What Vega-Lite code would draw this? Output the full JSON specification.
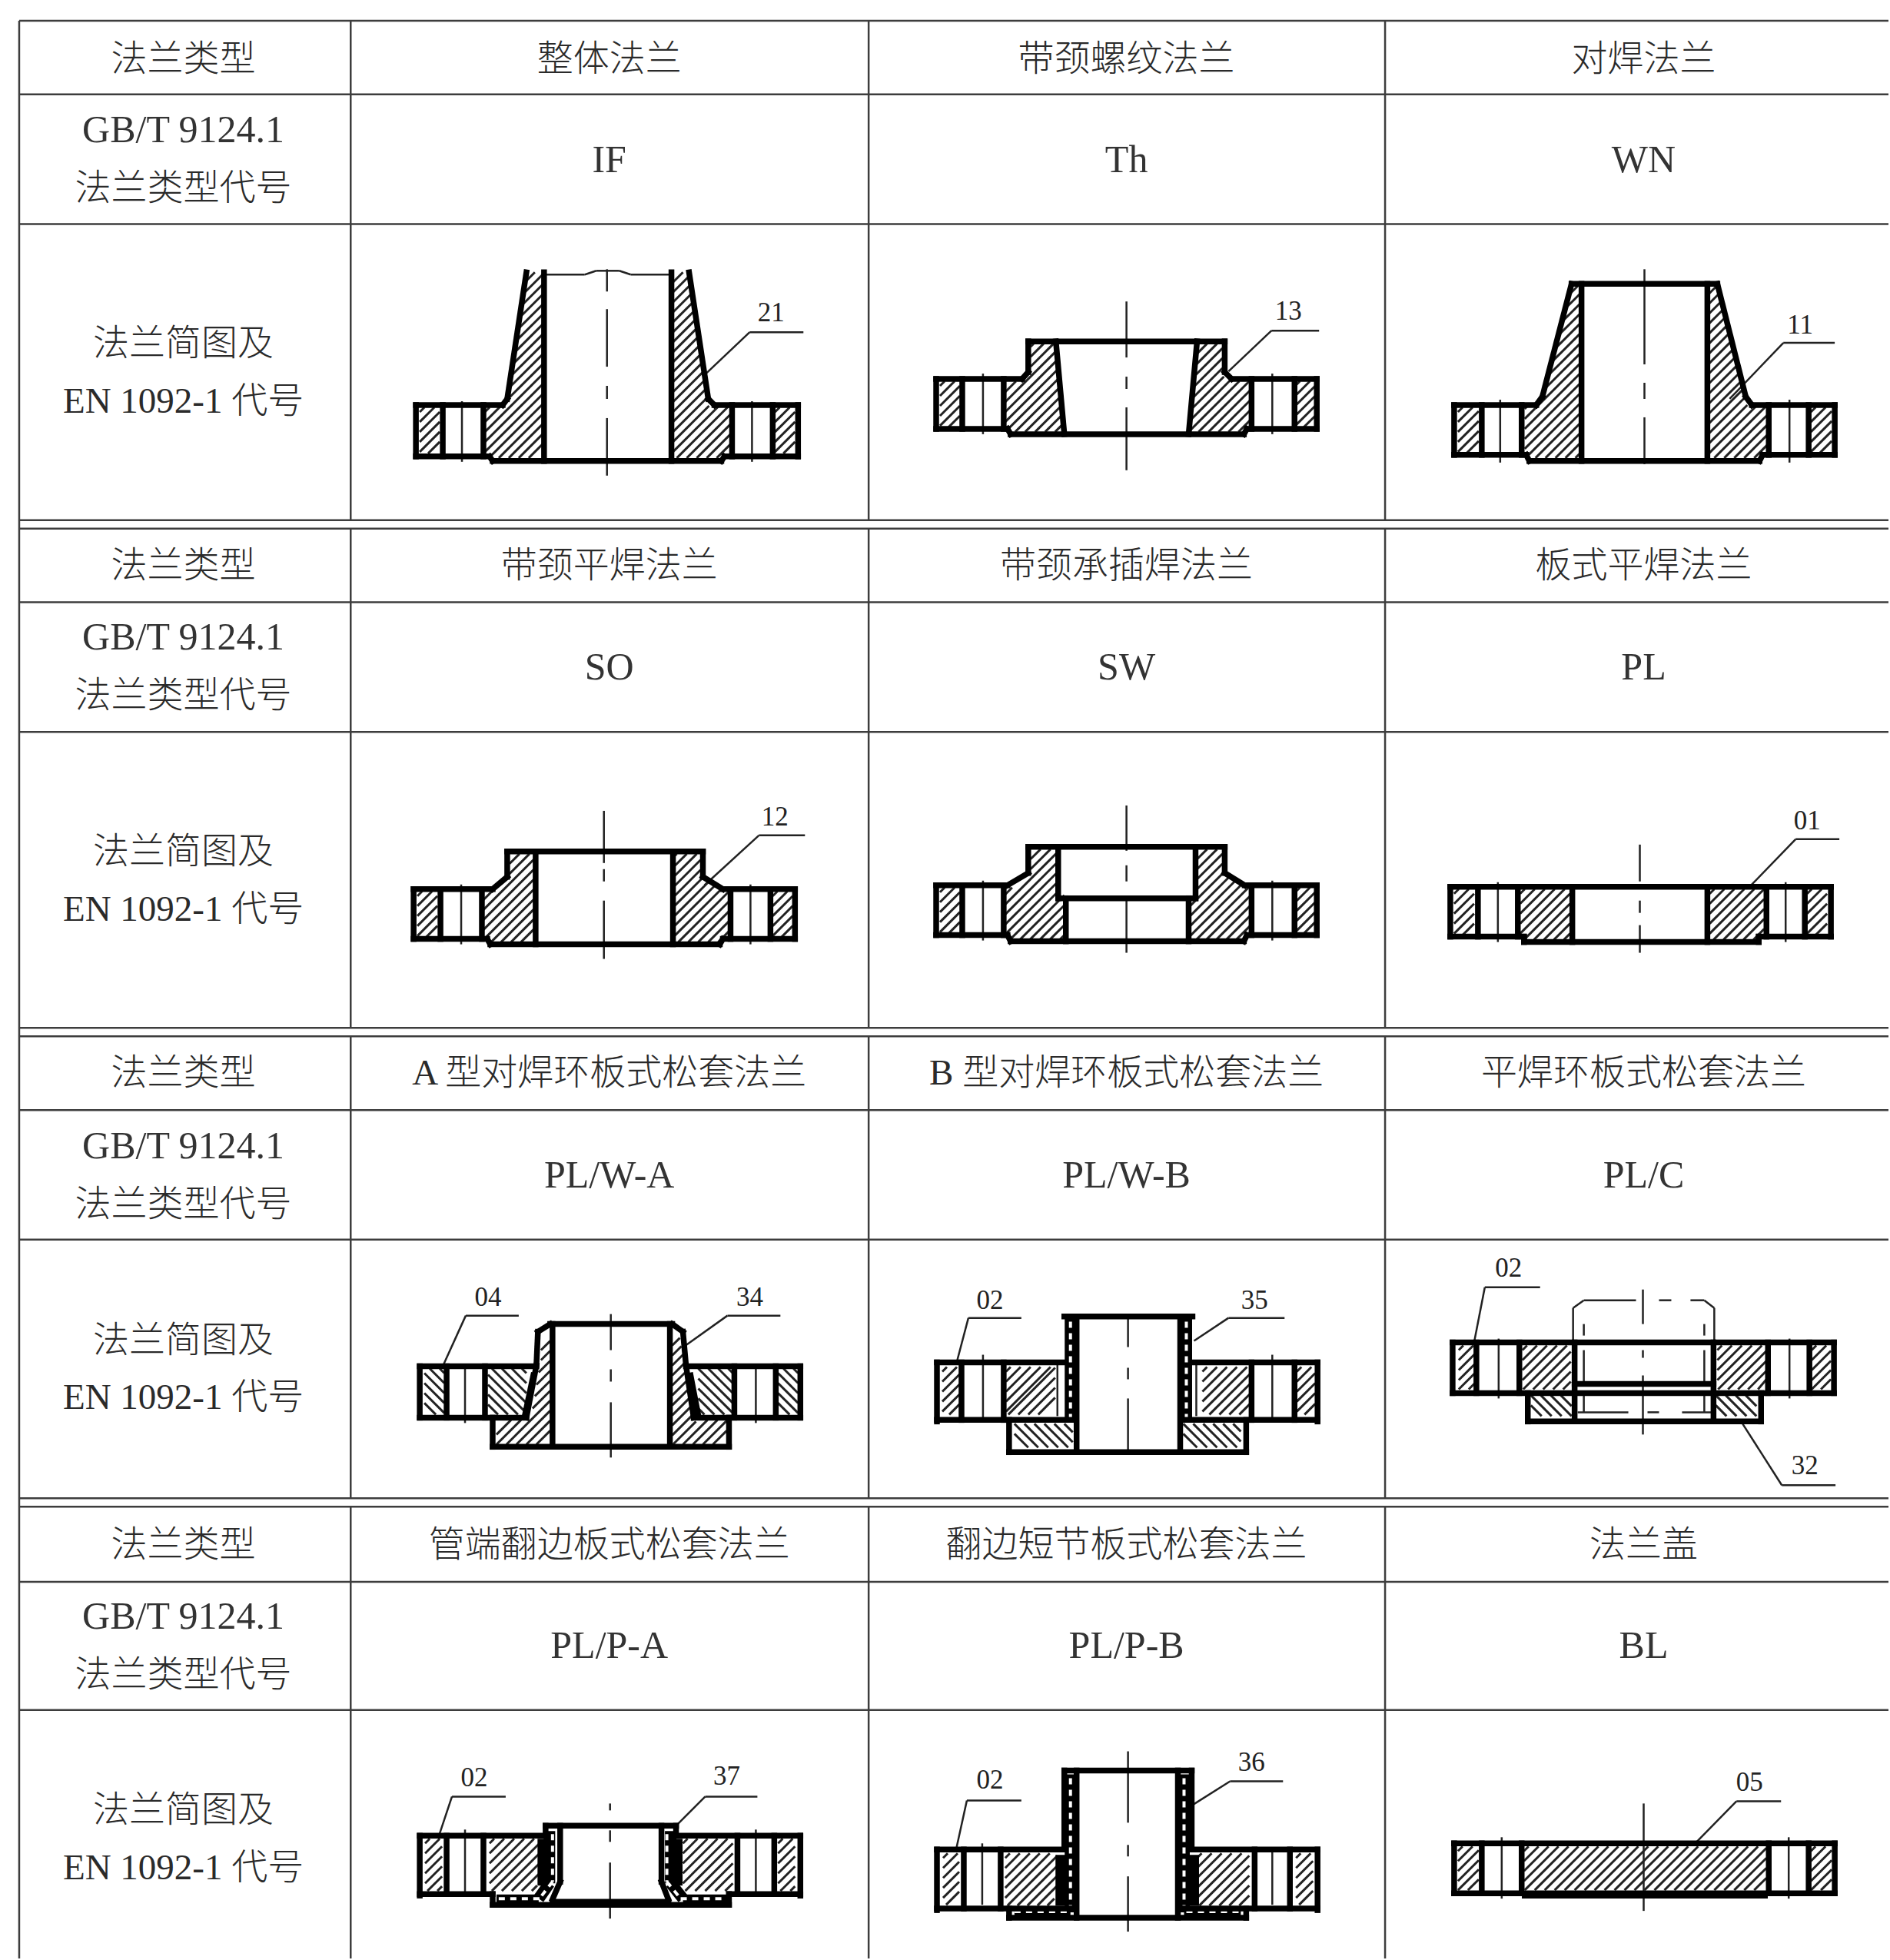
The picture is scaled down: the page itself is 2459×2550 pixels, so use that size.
{"$schema":"https://vega.github.io/schema/vega-lite/v6.json","width":2459,"height":2550,"padding":0,"autosize":{"type":"fit","contains":"padding"},"background":"white","config":{"view":{"stroke":null}},
"datasets":{
"grid":[{"a":23,"b":24,"c":23,"d":2550},{"a":455,"b":24,"c":455,"d":675},{"a":1130,"b":24,"c":1130,"d":675},{"a":1803,"b":24,"c":1803,"d":675},{"a":455,"b":686,"c":455,"d":1337},{"a":1130,"b":686,"c":1130,"d":1337},{"a":1803,"b":686,"c":1803,"d":1337},{"a":455,"b":1348,"c":455,"d":1950},{"a":1130,"b":1348,"c":1130,"d":1950},{"a":1803,"b":1348,"c":1803,"d":1950},{"a":455,"b":1961,"c":455,"d":2550},{"a":1130,"b":1961,"c":1130,"d":2550},{"a":1803,"b":1961,"c":1803,"d":2550},{"a":23,"b":24,"c":2459,"d":24},{"a":23,"b":120,"c":2459,"d":120},{"a":23,"b":289,"c":2459,"d":289},{"a":23,"b":675,"c":2459,"d":675},{"a":23,"b":686,"c":2459,"d":686},{"a":23,"b":782,"c":2459,"d":782},{"a":23,"b":951,"c":2459,"d":951},{"a":23,"b":1337,"c":2459,"d":1337},{"a":23,"b":1348,"c":2459,"d":1348},{"a":23,"b":1444,"c":2459,"d":1444},{"a":23,"b":1613,"c":2459,"d":1613},{"a":23,"b":1950,"c":2459,"d":1950},{"a":23,"b":1961,"c":2459,"d":1961},{"a":23,"b":2059,"c":2459,"d":2059},{"a":23,"b":2226,"c":2459,"d":2226}],
"hatch":[
{"a":545,"b":534,"c":551,"d":528},{"a":545,"b":547,"c":564,"d":528},{"a":545,"b":560,"c":571,"d":534},{"a":545,"b":573,"c":571,"d":547},{"a":545,"b":586,"c":571,"d":560},{"a":556,"b":588,"c":571,"d":573},
{"a":1008,"b":534,"c":1014,"d":528},{"a":1008,"b":547,"c":1027,"d":528},{"a":1008,"b":560,"c":1034,"d":534},{"a":1008,"b":573,"c":1034,"d":547},{"a":1008,"b":586,"c":1034,"d":560},{"a":1019,"b":588,"c":1034,"d":573},
{"a":682,"b":365,"c":695,"d":352},{"a":680,"b":380,"c":705,"d":355},{"a":677,"b":396,"c":705,"d":368},{"a":675,"b":411,"c":705,"d":381},{"a":673,"b":426,"c":705,"d":394},{"a":670,"b":442,"c":705,"d":407},{"a":668,"b":457,"c":705,"d":420},{"a":666,"b":472,"c":705,"d":433},{"a":663,"b":488,"c":705,"d":446},{"a":661,"b":503,"c":705,"d":459},{"a":630,"b":534,"c":636,"d":528},{"a":630,"b":547,"c":705,"d":472},{"a":630,"b":560,"c":705,"d":485},{"a":630,"b":573,"c":705,"d":498},{"a":630,"b":586,"c":705,"d":511},{"a":636,"b":593,"c":705,"d":524},{"a":648,"b":594,"c":705,"d":537},{"a":661,"b":594,"c":705,"d":550},{"a":674,"b":594,"c":705,"d":563},{"a":687,"b":594,"c":705,"d":576},
{"a":875,"b":365,"c":888,"d":352},{"a":875,"b":378,"c":896,"d":357},{"a":875,"b":391,"c":898,"d":368},{"a":875,"b":404,"c":900,"d":379},{"a":875,"b":417,"c":902,"d":390},{"a":875,"b":430,"c":904,"d":401},{"a":875,"b":443,"c":905,"d":413},{"a":875,"b":456,"c":907,"d":424},{"a":875,"b":469,"c":909,"d":435},{"a":875,"b":482,"c":910,"d":447},{"a":875,"b":495,"c":912,"d":458},{"a":875,"b":508,"c":914,"d":469},{"a":875,"b":521,"c":916,"d":480},{"a":875,"b":534,"c":917,"d":492},{"a":875,"b":547,"c":919,"d":503},{"a":875,"b":560,"c":921,"d":514},{"a":875,"b":573,"c":922,"d":526},{"a":875,"b":586,"c":935,"d":526},{"a":880,"b":594,"c":948,"d":526},{"a":893,"b":594,"c":950,"d":537},{"a":906,"b":594,"c":950,"d":550},{"a":919,"b":594,"c":950,"d":563},{"a":932,"b":594,"c":950,"d":576},
{"a":1223,"b":500,"c":1229,"d":494},{"a":1223,"b":513,"c":1242,"d":494},{"a":1223,"b":526,"c":1249,"d":500},{"a":1223,"b":539,"c":1249,"d":513},{"a":1223,"b":552,"c":1249,"d":526},{"a":1234,"b":554,"c":1249,"d":539},
{"a":1686,"b":500,"c":1692,"d":494},{"a":1686,"b":513,"c":1705,"d":494},{"a":1686,"b":526,"c":1712,"d":500},{"a":1686,"b":539,"c":1712,"d":513},{"a":1686,"b":552,"c":1712,"d":526},{"a":1697,"b":554,"c":1712,"d":539},
{"a":1341,"b":449,"c":1345,"d":445},{"a":1341,"b":462,"c":1358,"d":445},{"a":1341,"b":475,"c":1371,"d":445},{"a":1308,"b":508,"c":1322,"d":494},{"a":1308,"b":521,"c":1376,"d":453},{"a":1308,"b":534,"c":1377,"d":465},{"a":1308,"b":547,"c":1378,"d":477},{"a":1311,"b":557,"c":1379,"d":489},{"a":1321,"b":560,"c":1380,"d":501},{"a":1334,"b":560,"c":1381,"d":513},{"a":1347,"b":560,"c":1382,"d":525},{"a":1360,"b":560,"c":1383,"d":537},{"a":1373,"b":560,"c":1384,"d":549},
{"a":1556,"b":460,"c":1571,"d":445},{"a":1555,"b":474,"c":1584,"d":445},{"a":1554,"b":488,"c":1591,"d":451},{"a":1553,"b":502,"c":1591,"d":464},{"a":1552,"b":516,"c":1591,"d":477},{"a":1551,"b":530,"c":1593,"d":488},{"a":1550,"b":544,"c":1600,"d":494},{"a":1549,"b":558,"c":1613,"d":494},{"a":1560,"b":560,"c":1626,"d":494},{"a":1573,"b":560,"c":1627,"d":506},{"a":1586,"b":560,"c":1627,"d":519},{"a":1599,"b":560,"c":1627,"d":532},{"a":1612,"b":560,"c":1627,"d":545},
{"a":1898,"b":534,"c":1904,"d":528},{"a":1898,"b":547,"c":1917,"d":528},{"a":1898,"b":560,"c":1925,"d":533},{"a":1898,"b":573,"c":1925,"d":546},{"a":1898,"b":586,"c":1925,"d":559},{"a":1909,"b":588,"c":1925,"d":572},
{"a":2358,"b":534,"c":2364,"d":528},{"a":2358,"b":547,"c":2377,"d":528},{"a":2358,"b":560,"c":2385,"d":533},{"a":2358,"b":573,"c":2385,"d":546},{"a":2358,"b":586,"c":2385,"d":559},{"a":2369,"b":588,"c":2385,"d":572},
{"a":2042,"b":382,"c":2057,"d":367},{"a":2037,"b":400,"c":2057,"d":380},{"a":2033,"b":417,"c":2057,"d":393},{"a":2028,"b":435,"c":2057,"d":406},{"a":2024,"b":452,"c":2057,"d":419},{"a":2019,"b":470,"c":2057,"d":432},{"a":2015,"b":487,"c":2057,"d":445},{"a":2010,"b":505,"c":2057,"d":458},{"a":1985,"b":530,"c":1990,"d":525},{"a":1985,"b":543,"c":2057,"d":471},{"a":1985,"b":556,"c":2057,"d":484},{"a":1985,"b":569,"c":2057,"d":497},{"a":1985,"b":582,"c":2057,"d":510},{"a":1987,"b":593,"c":2057,"d":523},{"a":1999,"b":594,"c":2057,"d":536},{"a":2012,"b":594,"c":2057,"d":549},{"a":2025,"b":594,"c":2057,"d":562},{"a":2038,"b":594,"c":2057,"d":575},{"a":2051,"b":594,"c":2057,"d":588},
{"a":2225,"b":380,"c":2236,"d":369},{"a":2225,"b":393,"c":2239,"d":379},{"a":2225,"b":406,"c":2242,"d":389},{"a":2225,"b":419,"c":2244,"d":400},{"a":2225,"b":432,"c":2247,"d":410},{"a":2225,"b":445,"c":2250,"d":420},{"a":2225,"b":458,"c":2252,"d":431},{"a":2225,"b":471,"c":2255,"d":441},{"a":2225,"b":484,"c":2257,"d":452},{"a":2225,"b":497,"c":2260,"d":462},{"a":2225,"b":510,"c":2263,"d":472},{"a":2225,"b":523,"c":2265,"d":483},{"a":2225,"b":536,"c":2268,"d":493},{"a":2225,"b":549,"c":2270,"d":504},{"a":2225,"b":562,"c":2273,"d":514},{"a":2225,"b":575,"c":2275,"d":525},{"a":2225,"b":588,"c":2288,"d":525},{"a":2232,"b":594,"c":2300,"d":526},{"a":2245,"b":594,"c":2301,"d":538},{"a":2258,"b":594,"c":2301,"d":551},{"a":2271,"b":594,"c":2301,"d":564},{"a":2284,"b":594,"c":2301,"d":577},
{"a":542,"b":1165,"c":548,"d":1159},{"a":542,"b":1178,"c":561,"d":1159},{"a":542,"b":1191,"c":568,"d":1165},{"a":542,"b":1204,"c":568,"d":1178},{"a":542,"b":1217,"c":568,"d":1191},{"a":553,"b":1219,"c":568,"d":1204},
{"a":1005,"b":1165,"c":1011,"d":1159},{"a":1005,"b":1178,"c":1024,"d":1159},{"a":1005,"b":1191,"c":1031,"d":1165},{"a":1005,"b":1204,"c":1031,"d":1178},{"a":1005,"b":1217,"c":1031,"d":1191},{"a":1016,"b":1219,"c":1031,"d":1204},
{"a":662,"b":1123,"c":675,"d":1110},{"a":628,"b":1170,"c":688,"d":1110},{"a":628,"b":1183,"c":694,"d":1117},{"a":628,"b":1196,"c":694,"d":1130},{"a":628,"b":1209,"c":694,"d":1143},{"a":630,"b":1220,"c":694,"d":1156},{"a":638,"b":1225,"c":694,"d":1169},{"a":651,"b":1225,"c":694,"d":1182},{"a":664,"b":1225,"c":694,"d":1195},{"a":677,"b":1225,"c":694,"d":1208},
{"a":877,"b":1113,"c":880,"d":1110},{"a":877,"b":1126,"c":893,"d":1110},{"a":877,"b":1139,"c":906,"d":1110},{"a":877,"b":1152,"c":911,"d":1118},{"a":877,"b":1165,"c":911,"d":1131},{"a":877,"b":1178,"c":915,"d":1140},{"a":877,"b":1191,"c":922,"d":1146},{"a":877,"b":1204,"c":931,"d":1150},{"a":877,"b":1217,"c":940,"d":1154},{"a":882,"b":1225,"c":948,"d":1159},{"a":895,"b":1225,"c":948,"d":1172},{"a":908,"b":1225,"c":948,"d":1185},{"a":921,"b":1225,"c":948,"d":1198},{"a":934,"b":1225,"c":948,"d":1211},
{"a":1223,"b":1160,"c":1229,"d":1154},{"a":1223,"b":1173,"c":1242,"d":1154},{"a":1223,"b":1186,"c":1249,"d":1160},{"a":1223,"b":1199,"c":1249,"d":1173},{"a":1223,"b":1212,"c":1249,"d":1186},{"a":1234,"b":1214,"c":1249,"d":1199},
{"a":1686,"b":1160,"c":1692,"d":1154},{"a":1686,"b":1173,"c":1705,"d":1154},{"a":1686,"b":1186,"c":1712,"d":1160},{"a":1686,"b":1199,"c":1712,"d":1173},{"a":1686,"b":1212,"c":1712,"d":1186},{"a":1697,"b":1214,"c":1712,"d":1199},
{"a":1341,"b":1117,"c":1354,"d":1104},{"a":1341,"b":1130,"c":1367,"d":1104},{"a":1306,"b":1165,"c":1317,"d":1154},{"a":1306,"b":1178,"c":1375,"d":1109},{"a":1306,"b":1191,"c":1375,"d":1122},{"a":1306,"b":1204,"c":1375,"d":1135},{"a":1306,"b":1217,"c":1375,"d":1148},{"a":1312,"b":1224,"c":1375,"d":1161},{"a":1325,"b":1224,"c":1385,"d":1164},{"a":1338,"b":1224,"c":1385,"d":1177},{"a":1351,"b":1224,"c":1385,"d":1190},{"a":1364,"b":1224,"c":1385,"d":1203},{"a":1377,"b":1224,"c":1385,"d":1216},
{"a":1558,"b":1117,"c":1571,"d":1104},{"a":1558,"b":1130,"c":1584,"d":1104},{"a":1558,"b":1143,"c":1591,"d":1110},{"a":1558,"b":1156,"c":1591,"d":1123},{"a":1549,"b":1178,"c":1592,"d":1135},{"a":1549,"b":1191,"c":1600,"d":1140},{"a":1549,"b":1204,"c":1608,"d":1145},{"a":1549,"b":1217,"c":1616,"d":1150},{"a":1555,"b":1224,"c":1625,"d":1154},{"a":1568,"b":1224,"c":1627,"d":1165},{"a":1581,"b":1224,"c":1627,"d":1178},{"a":1594,"b":1224,"c":1627,"d":1191},{"a":1607,"b":1224,"c":1627,"d":1204},
{"a":1893,"b":1162,"c":1899,"d":1156},{"a":1893,"b":1175,"c":1912,"d":1156},{"a":1893,"b":1188,"c":1919,"d":1162},{"a":1893,"b":1201,"c":1919,"d":1175},{"a":1893,"b":1214,"c":1919,"d":1188},{"a":1904,"b":1216,"c":1919,"d":1201},
{"a":2353,"b":1162,"c":2359,"d":1156},{"a":2353,"b":1175,"c":2372,"d":1156},{"a":2353,"b":1188,"c":2379,"d":1162},{"a":2353,"b":1201,"c":2379,"d":1175},{"a":2353,"b":1214,"c":2379,"d":1188},{"a":2364,"b":1216,"c":2379,"d":1201},
{"a":1979,"b":1162,"c":1985,"d":1156},{"a":1979,"b":1175,"c":1998,"d":1156},{"a":1979,"b":1188,"c":2011,"d":1156},{"a":1979,"b":1201,"c":2024,"d":1156},{"a":1979,"b":1214,"c":2037,"d":1156},{"a":1984,"b":1222,"c":2044,"d":1162},{"a":1997,"b":1222,"c":2044,"d":1175},{"a":2010,"b":1222,"c":2044,"d":1188},{"a":2023,"b":1222,"c":2044,"d":1201},{"a":2036,"b":1222,"c":2044,"d":1214},
{"a":2226,"b":1162,"c":2232,"d":1156},{"a":2226,"b":1175,"c":2245,"d":1156},{"a":2226,"b":1188,"c":2258,"d":1156},{"a":2226,"b":1201,"c":2271,"d":1156},{"a":2226,"b":1214,"c":2284,"d":1156},{"a":2231,"b":1222,"c":2297,"d":1156},{"a":2244,"b":1222,"c":2297,"d":1169},{"a":2257,"b":1222,"c":2297,"d":1182},{"a":2270,"b":1222,"c":2297,"d":1195},{"a":2283,"b":1222,"c":2297,"d":1208},
{"a":571,"b":1781,"c":577,"d":1787},{"a":558,"b":1781,"c":577,"d":1800},{"a":551,"b":1787,"c":577,"d":1813},{"a":551,"b":1800,"c":577,"d":1826},{"a":551,"b":1813,"c":577,"d":1839},{"a":551,"b":1826,"c":566,"d":1841},
{"a":1032,"b":1781,"c":1038,"d":1787},{"a":1019,"b":1781,"c":1038,"d":1800},{"a":1012,"b":1787,"c":1038,"d":1813},{"a":1012,"b":1800,"c":1038,"d":1826},{"a":1012,"b":1813,"c":1038,"d":1839},{"a":1012,"b":1826,"c":1027,"d":1841},
{"a":678,"b":1781,"c":684,"d":1787},{"a":665,"b":1781,"c":684,"d":1800},{"a":652,"b":1781,"c":684,"d":1813},{"a":639,"b":1781,"c":684,"d":1826},{"a":634,"b":1789,"c":684,"d":1839},{"a":634,"b":1802,"c":673,"d":1841},{"a":634,"b":1815,"c":660,"d":1841},{"a":634,"b":1828,"c":647,"d":1841},
{"a":947,"b":1781,"c":953,"d":1787},{"a":934,"b":1781,"c":953,"d":1800},{"a":921,"b":1781,"c":953,"d":1813},{"a":908,"b":1781,"c":953,"d":1826},{"a":908,"b":1794,"c":953,"d":1839},{"a":908,"b":1807,"c":942,"d":1841},{"a":908,"b":1820,"c":929,"d":1841},{"a":908,"b":1833,"c":916,"d":1841},
{"a":703,"b":1757,"c":715,"d":1745},{"a":703,"b":1770,"c":715,"d":1758},{"a":700,"b":1786,"c":715,"d":1771},{"a":697,"b":1802,"c":715,"d":1784},{"a":695,"b":1817,"c":715,"d":1797},{"a":692,"b":1833,"c":715,"d":1810},{"a":645,"b":1867,"c":664,"d":1848},{"a":645,"b":1880,"c":677,"d":1848},{"a":658,"b":1880,"c":715,"d":1823},{"a":671,"b":1880,"c":715,"d":1836},{"a":684,"b":1880,"c":715,"d":1849},{"a":697,"b":1880,"c":715,"d":1862},
{"a":874,"b":1751,"c":884,"d":1741},{"a":874,"b":1764,"c":886,"d":1752},{"a":874,"b":1777,"c":888,"d":1763},{"a":874,"b":1790,"c":889,"d":1775},{"a":874,"b":1803,"c":891,"d":1786},{"a":874,"b":1816,"c":893,"d":1797},{"a":874,"b":1829,"c":894,"d":1809},{"a":874,"b":1842,"c":896,"d":1820},{"a":874,"b":1855,"c":898,"d":1831},{"a":874,"b":1868,"c":900,"d":1842},{"a":875,"b":1880,"c":905,"d":1850},{"a":888,"b":1880,"c":920,"d":1848},{"a":901,"b":1880,"c":933,"d":1848},{"a":914,"b":1880,"c":945,"d":1849},{"a":927,"b":1880,"c":945,"d":1862},
{"a":1226,"b":1785,"c":1232,"d":1779},{"a":1226,"b":1798,"c":1245,"d":1779},{"a":1226,"b":1811,"c":1249,"d":1788},{"a":1226,"b":1824,"c":1249,"d":1801},{"a":1226,"b":1837,"c":1249,"d":1814},{"a":1235,"b":1841,"c":1249,"d":1827},
{"a":1688,"b":1785,"c":1694,"d":1779},{"a":1688,"b":1798,"c":1707,"d":1779},{"a":1688,"b":1811,"c":1712,"d":1787},{"a":1688,"b":1824,"c":1712,"d":1800},{"a":1688,"b":1837,"c":1712,"d":1813},{"a":1698,"b":1841,"c":1712,"d":1827},
{"a":1309,"b":1785,"c":1315,"d":1779},{"a":1309,"b":1798,"c":1328,"d":1779},{"a":1309,"b":1811,"c":1341,"d":1779},{"a":1309,"b":1824,"c":1354,"d":1779},{"a":1309,"b":1837,"c":1367,"d":1779},{"a":1312,"b":1841,"c":1373,"d":1780},{"a":1325,"b":1841,"c":1373,"d":1793},{"a":1338,"b":1841,"c":1373,"d":1806},{"a":1351,"b":1841,"c":1373,"d":1819},
{"a":1565,"b":1785,"c":1571,"d":1779},{"a":1565,"b":1798,"c":1584,"d":1779},{"a":1565,"b":1811,"c":1597,"d":1779},{"a":1565,"b":1824,"c":1610,"d":1779},{"a":1565,"b":1837,"c":1623,"d":1779},{"a":1574,"b":1841,"c":1627,"d":1788},{"a":1587,"b":1841,"c":1627,"d":1801},{"a":1600,"b":1841,"c":1627,"d":1814},{"a":1613,"b":1841,"c":1627,"d":1827},
{"a":1320,"b":1853,"c":1351,"d":1884},{"a":1333,"b":1853,"c":1364,"d":1884},{"a":1346,"b":1853,"c":1377,"d":1884},{"a":1359,"b":1853,"c":1390,"d":1884},{"a":1372,"b":1853,"c":1396,"d":1877},{"a":1385,"b":1853,"c":1396,"d":1864},{"a":1320,"b":1866,"c":1338,"d":1884},
{"a":1540,"b":1853,"c":1571,"d":1884},{"a":1553,"b":1853,"c":1584,"d":1884},{"a":1566,"b":1853,"c":1597,"d":1884},{"a":1579,"b":1853,"c":1610,"d":1884},{"a":1592,"b":1853,"c":1615,"d":1876},{"a":1605,"b":1853,"c":1615,"d":1863},{"a":1540,"b":1866,"c":1558,"d":1884},
{"a":1899,"b":1757,"c":1905,"d":1751},{"a":1899,"b":1770,"c":1918,"d":1751},{"a":1899,"b":1783,"c":1920,"d":1762},{"a":1899,"b":1796,"c":1920,"d":1775},{"a":1899,"b":1808,"c":1920,"d":1787},{"a":1912,"b":1808,"c":1920,"d":1800},
{"a":2359,"b":1757,"c":2365,"d":1751},{"a":2359,"b":1770,"c":2378,"d":1751},{"a":2359,"b":1783,"c":2384,"d":1758},{"a":2359,"b":1796,"c":2384,"d":1771},{"a":2359,"b":1808,"c":2384,"d":1783},{"a":2371,"b":1808,"c":2384,"d":1795},
{"a":1982,"b":1757,"c":1988,"d":1751},{"a":1982,"b":1770,"c":2001,"d":1751},{"a":1982,"b":1783,"c":2014,"d":1751},{"a":1982,"b":1796,"c":2027,"d":1751},{"a":1983,"b":1808,"c":2040,"d":1751},{"a":1996,"b":1808,"c":2045,"d":1759},{"a":2009,"b":1808,"c":2045,"d":1772},{"a":2022,"b":1808,"c":2045,"d":1785},{"a":2035,"b":1808,"c":2045,"d":1798},
{"a":2236,"b":1757,"c":2242,"d":1751},{"a":2236,"b":1770,"c":2255,"d":1751},{"a":2236,"b":1783,"c":2268,"d":1751},{"a":2236,"b":1796,"c":2281,"d":1751},{"a":2237,"b":1808,"c":2294,"d":1751},{"a":2250,"b":1808,"c":2300,"d":1758},{"a":2263,"b":1808,"c":2300,"d":1771},{"a":2276,"b":1808,"c":2300,"d":1784},{"a":2289,"b":1808,"c":2300,"d":1795},
{"a":1993,"b":1816,"c":2020,"d":1843},{"a":2006,"b":1816,"c":2033,"d":1843},{"a":2019,"b":1816,"c":2046,"d":1843},{"a":2032,"b":1816,"c":2046,"d":1830},{"a":1993,"b":1829,"c":2007,"d":1843},
{"a":2234,"b":1816,"c":2261,"d":1843},{"a":2247,"b":1816,"c":2274,"d":1843},{"a":2260,"b":1816,"c":2287,"d":1843},{"a":2273,"b":1816,"c":2287,"d":1830},{"a":2234,"b":1829,"c":2248,"d":1843},
{"a":552,"b":2400,"c":558,"d":2394},{"a":552,"b":2413,"c":571,"d":2394},{"a":552,"b":2426,"c":574,"d":2404},{"a":552,"b":2439,"c":574,"d":2417},{"a":552,"b":2452,"c":574,"d":2430},{"a":555,"b":2462,"c":574,"d":2443},{"a":568,"b":2462,"c":574,"d":2456},
{"a":1012,"b":2400,"c":1018,"d":2394},{"a":1012,"b":2413,"c":1031,"d":2394},{"a":1012,"b":2426,"c":1034,"d":2404},{"a":1012,"b":2439,"c":1034,"d":2417},{"a":1012,"b":2452,"c":1034,"d":2430},{"a":1015,"b":2462,"c":1034,"d":2443},{"a":1028,"b":2462,"c":1034,"d":2456},
{"a":636,"b":2400,"c":642,"d":2394},{"a":636,"b":2413,"c":655,"d":2394},{"a":636,"b":2426,"c":668,"d":2394},{"a":636,"b":2439,"c":681,"d":2394},{"a":636,"b":2452,"c":694,"d":2394},{"a":639,"b":2462,"c":700,"d":2401},{"a":652,"b":2462,"c":700,"d":2414},{"a":665,"b":2462,"c":700,"d":2427},{"a":678,"b":2462,"c":700,"d":2440},{"a":691,"b":2462,"c":698,"d":2455},
{"a":888,"b":2400,"c":894,"d":2394},{"a":888,"b":2413,"c":907,"d":2394},{"a":888,"b":2426,"c":920,"d":2394},{"a":888,"b":2439,"c":933,"d":2394},{"a":888,"b":2452,"c":946,"d":2394},{"a":891,"b":2462,"c":953,"d":2400},{"a":904,"b":2462,"c":953,"d":2413},{"a":917,"b":2462,"c":953,"d":2426},{"a":930,"b":2462,"c":953,"d":2439},{"a":943,"b":2462,"c":953,"d":2452},
{"a":1227,"b":2419,"c":1233,"d":2413},{"a":1227,"b":2432,"c":1246,"d":2413},{"a":1227,"b":2445,"c":1248,"d":2424},{"a":1227,"b":2458,"c":1248,"d":2437},{"a":1227,"b":2471,"c":1248,"d":2450},{"a":1231,"b":2480,"c":1248,"d":2463},
{"a":1687,"b":2419,"c":1693,"d":2413},{"a":1687,"b":2432,"c":1706,"d":2413},{"a":1687,"b":2445,"c":1709,"d":2423},{"a":1687,"b":2458,"c":1709,"d":2436},{"a":1687,"b":2471,"c":1709,"d":2449},{"a":1691,"b":2480,"c":1709,"d":2462},
{"a":1308,"b":2419,"c":1314,"d":2413},{"a":1308,"b":2432,"c":1327,"d":2413},{"a":1308,"b":2445,"c":1340,"d":2413},{"a":1308,"b":2458,"c":1353,"d":2413},{"a":1308,"b":2471,"c":1366,"d":2413},{"a":1311,"b":2481,"c":1376,"d":2416},{"a":1324,"b":2481,"c":1376,"d":2429},{"a":1337,"b":2481,"c":1376,"d":2442},{"a":1350,"b":2481,"c":1375,"d":2456},{"a":1363,"b":2481,"c":1372,"d":2472},
{"a":1558,"b":2419,"c":1564,"d":2413},{"a":1558,"b":2432,"c":1577,"d":2413},{"a":1558,"b":2445,"c":1590,"d":2413},{"a":1558,"b":2458,"c":1603,"d":2413},{"a":1558,"b":2471,"c":1616,"d":2413},{"a":1561,"b":2481,"c":1626,"d":2416},{"a":1574,"b":2481,"c":1626,"d":2429},{"a":1587,"b":2481,"c":1626,"d":2442},{"a":1600,"b":2481,"c":1626,"d":2455},{"a":1613,"b":2481,"c":1626,"d":2468},
{"a":1898,"b":2410,"c":1904,"d":2404},{"a":1898,"b":2423,"c":1917,"d":2404},{"a":1898,"b":2436,"c":1925,"d":2409},{"a":1898,"b":2449,"c":1925,"d":2422},{"a":1898,"b":2461,"c":1925,"d":2434},{"a":1911,"b":2461,"c":1925,"d":2447},
{"a":2358,"b":2410,"c":2364,"d":2404},{"a":2358,"b":2423,"c":2377,"d":2404},{"a":2358,"b":2436,"c":2385,"d":2409},{"a":2358,"b":2449,"c":2385,"d":2422},{"a":2358,"b":2461,"c":2385,"d":2434},{"a":2371,"b":2461,"c":2385,"d":2447},
{"a":1984,"b":2410,"c":1990,"d":2404},{"a":1984,"b":2423,"c":2003,"d":2404},{"a":1984,"b":2436,"c":2016,"d":2404},{"a":1984,"b":2449,"c":2029,"d":2404},{"a":1985,"b":2461,"c":2042,"d":2404},{"a":1998,"b":2461,"c":2055,"d":2404},{"a":2011,"b":2461,"c":2068,"d":2404},{"a":2024,"b":2461,"c":2081,"d":2404},{"a":2037,"b":2461,"c":2094,"d":2404},{"a":2050,"b":2461,"c":2107,"d":2404},{"a":2063,"b":2461,"c":2120,"d":2404},{"a":2076,"b":2461,"c":2133,"d":2404},{"a":2089,"b":2461,"c":2146,"d":2404},{"a":2102,"b":2461,"c":2159,"d":2404},{"a":2115,"b":2461,"c":2172,"d":2404},{"a":2128,"b":2461,"c":2185,"d":2404},{"a":2141,"b":2461,"c":2198,"d":2404},{"a":2154,"b":2461,"c":2211,"d":2404},{"a":2167,"b":2461,"c":2224,"d":2404},{"a":2180,"b":2461,"c":2237,"d":2404},{"a":2193,"b":2461,"c":2250,"d":2404},{"a":2206,"b":2461,"c":2263,"d":2404},{"a":2219,"b":2461,"c":2276,"d":2404},{"a":2232,"b":2461,"c":2289,"d":2404},{"a":2245,"b":2461,"c":2300,"d":2406},{"a":2258,"b":2461,"c":2300,"d":2419},{"a":2271,"b":2461,"c":2300,"d":2432},{"a":2284,"b":2461,"c":2300,"d":2445}
],
"thin":[
{"a":789,"b":348,"c":789,"d":377},{"a":789,"b":400,"c":789,"d":475},{"a":789,"b":500,"c":789,"d":517},{"a":789,"b":542,"c":789,"d":617},{"a":600,"b":520,"c":600,"d":599},{"a":978,"b":520,"c":978,"d":599},{"a":919,"b":483,"c":975,"d":430},{"a":975,"b":430,"c":1045,"d":430},{"a":707,"b":355,"c":760,"d":355},{"a":760,"b":355,"c":775,"d":350},{"a":775,"b":350,"c":805,"d":350},{"a":805,"b":350,"c":820,"d":355},{"a":820,"b":355,"c":873,"d":355},
{"a":1466,"b":390,"c":1466,"d":463},{"a":1466,"b":488,"c":1466,"d":504},{"a":1466,"b":528,"c":1466,"d":610},{"a":1279,"b":484,"c":1279,"d":563},{"a":1656,"b":484,"c":1656,"d":563},{"a":1599,"b":481,"c":1655,"d":428},{"a":1655,"b":428,"c":1717,"d":428},
{"a":2141,"b":348,"c":2141,"d":472},{"a":2141,"b":496,"c":2141,"d":517},{"a":2141,"b":541,"c":2141,"d":602},{"a":1953,"b":518,"c":1953,"d":600},{"a":2330,"b":518,"c":2330,"d":600},{"a":2252,"b":517,"c":2322,"d":444},{"a":2322,"b":444,"c":2389,"d":444},
{"a":785,"b":1054,"c":785,"d":1122},{"a":785,"b":1130,"c":785,"d":1146},{"a":785,"b":1171,"c":785,"d":1247},{"a":599,"b":1150,"c":599,"d":1228},{"a":976,"b":1150,"c":976,"d":1228},{"a":916,"b":1151,"c":987,"d":1086},{"a":987,"b":1086,"c":1047,"d":1086},
{"a":1466,"b":1047,"c":1466,"d":1106},{"a":1466,"b":1125,"c":1466,"d":1146},{"a":1466,"b":1171,"c":1466,"d":1239},{"a":1279,"b":1145,"c":1279,"d":1223},{"a":1656,"b":1145,"c":1656,"d":1223},
{"a":2135,"b":1098,"c":2135,"d":1146},{"a":2135,"b":1171,"c":2135,"d":1187},{"a":2135,"b":1203,"c":2135,"d":1239},{"a":1950,"b":1147,"c":1950,"d":1225},{"a":2325,"b":1147,"c":2325,"d":1225},{"a":2280,"b":1151,"c":2338,"d":1091},{"a":2338,"b":1091,"c":2395,"d":1091},
{"a":794,"b":1710,"c":794,"d":1757},{"a":794,"b":1782,"c":794,"d":1798},{"a":794,"b":1825,"c":794,"d":1897},{"a":604,"b":1775,"c":604,"d":1852},{"a":983,"b":1775,"c":983,"d":1852},{"a":575,"b":1778,"c":605,"d":1712},{"a":605,"b":1712,"c":674,"d":1712},{"a":890,"b":1752,"c":946,"d":1712},{"a":946,"b":1712,"c":1015,"d":1712},
{"a":1468,"b":1710,"c":1468,"d":1753},{"a":1468,"b":1780,"c":1468,"d":1795},{"a":1468,"b":1820,"c":1468,"d":1893},{"a":1279,"b":1763,"c":1279,"d":1847},{"a":1656,"b":1763,"c":1656,"d":1847},{"a":1245,"b":1772,"c":1260,"d":1715},{"a":1260,"b":1715,"c":1329,"d":1715},{"a":1554,"b":1745,"c":1599,"d":1715},{"a":1599,"b":1715,"c":1672,"d":1715},{"a":1376,"b":1776,"c":1376,"d":1843},{"a":1557,"b":1776,"c":1557,"d":1843},
{"a":2139,"b":1678,"c":2139,"d":1723},{"a":2139,"b":1757,"c":2139,"d":1767},{"a":2139,"b":1790,"c":2139,"d":1867},{"a":1951,"b":1742,"c":1951,"d":1820},{"a":2330,"b":1742,"c":2330,"d":1820},{"a":1919,"b":1747,"c":1933,"d":1675},{"a":1933,"b":1675,"c":2005,"d":1675},{"a":2267,"b":1850,"c":2320,"d":1933},{"a":2320,"b":1933,"c":2390,"d":1933},{"a":2048,"b":1747,"c":2048,"d":1702},{"a":2048,"b":1702,"c":2062,"d":1692},{"a":2062,"b":1692,"c":2130,"d":1692},{"a":2160,"b":1692,"c":2176,"d":1692},{"a":2201,"b":1692,"c":2219,"d":1692},{"a":2219,"b":1692,"c":2232,"d":1702},{"a":2232,"b":1702,"c":2232,"d":1747},{"a":2062,"b":1723,"c":2062,"d":1738},{"a":2219,"b":1723,"c":2219,"d":1738},{"a":2062,"b":1757,"c":2062,"d":1800},{"a":2219,"b":1757,"c":2219,"d":1800},{"a":2062,"b":1815,"c":2062,"d":1838},{"a":2219,"b":1815,"c":2219,"d":1838},{"a":2054,"b":1838,"c":2120,"d":1838},{"a":2145,"b":1838,"c":2160,"d":1838},{"a":2190,"b":1838,"c":2228,"d":1838},
{"a":793,"b":2348,"c":793,"d":2357},{"a":793,"b":2383,"c":793,"d":2398},{"a":793,"b":2425,"c":793,"d":2498},{"a":604,"b":2382,"c":604,"d":2463},{"a":983,"b":2382,"c":983,"d":2463},{"a":570,"b":2390,"c":587,"d":2339},{"a":587,"b":2339,"c":657,"d":2339},{"a":879,"b":2377,"c":917,"d":2339},{"a":917,"b":2339,"c":985,"d":2339},
{"a":1468,"b":2280,"c":1468,"d":2373},{"a":1468,"b":2402,"c":1468,"d":2417},{"a":1468,"b":2443,"c":1468,"d":2515},{"a":1278,"b":2400,"c":1278,"d":2480},{"a":1656,"b":2405,"c":1656,"d":2480},{"a":1244,"b":2408,"c":1258,"d":2344},{"a":1258,"b":2344,"c":1329,"d":2344},{"a":1552,"b":2350,"c":1601,"d":2319},{"a":1601,"b":2319,"c":1670,"d":2319},
{"a":2140,"b":2348,"c":2140,"d":2488},{"a":1955,"b":2392,"c":1955,"d":2472},{"a":2329,"b":2392,"c":2329,"d":2472},{"a":2207,"b":2400,"c":2261,"d":2345},{"a":2261,"b":2345,"c":2319,"d":2345}
],
"wall":[{"a":1393,"b":1713,"c":1393,"d":1850},{"a":1544,"b":1713,"c":1544,"d":1850},{"a":714,"b":2384,"c":714,"d":2452},{"a":714,"b":2452,"c":700,"d":2472},{"a":700,"b":2474,"c":645,"d":2474},{"a":706,"b":2394,"c":706,"d":2455},{"a":872,"b":2384,"c":872,"d":2452},{"a":872,"b":2452,"c":888,"d":2472},{"a":888,"b":2474,"c":945,"d":2474},{"a":880,"b":2394,"c":880,"d":2455},{"a":1393,"b":2310,"c":1393,"d":2490},{"a":1541,"b":2310,"c":1541,"d":2490},{"a":1320,"b":2490,"c":1393,"d":2490},{"a":1541,"b":2490,"c":1615,"d":2490},{"a":1381,"b":2415,"c":1381,"d":2481},{"a":1553,"b":2415,"c":1553,"d":2481}],
"speck":[{"a":1393,"b":1720,"c":1393,"d":1845},{"a":1544,"b":1720,"c":1544,"d":1845},{"a":718,"b":2388,"c":718,"d":2450},{"a":718,"b":2450,"c":701,"d":2472},{"a":701,"b":2472,"c":645,"d":2472},{"a":867,"b":2388,"c":867,"d":2450},{"a":867,"b":2450,"c":885,"d":2472},{"a":885,"b":2472,"c":940,"d":2472},{"a":1393,"b":2315,"c":1393,"d":2485},{"a":1320,"b":2489,"c":1390,"d":2489},{"a":1541,"b":2315,"c":1541,"d":2485},{"a":1544,"b":2489,"c":1615,"d":2489}],
"outline":[
{"a":540,"b":525,"c":653,"d":525},{"a":929,"b":525,"c":1038,"d":525},{"a":540,"b":525,"c":540,"d":592},{"a":1038,"b":525,"c":1038,"d":592},{"a":540,"b":592,"c":636,"d":592},{"a":942,"b":592,"c":1038,"d":592},{"a":636,"b":592,"c":640,"d":598},{"a":942,"b":592,"c":938,"d":598},{"a":640,"b":598,"c":938,"d":598},{"a":575,"b":525,"c":575,"d":592},{"a":628,"b":525,"c":628,"d":592},{"a":952,"b":525,"c":952,"d":592},{"a":1005,"b":525,"c":1005,"d":592},{"a":684,"b":352,"c":659,"d":517},{"a":659,"b":517,"c":653,"d":525},{"a":896,"b":352,"c":921,"d":517},{"a":921,"b":517,"c":929,"d":525},{"a":707,"b":352,"c":707,"d":598},{"a":873,"b":352,"c":873,"d":598},
{"a":1218,"b":491,"c":1330,"d":491},{"a":1603,"b":491,"c":1714,"d":491},{"a":1218,"b":491,"c":1218,"d":556},{"a":1714,"b":491,"c":1714,"d":556},{"a":1218,"b":556,"c":1311,"d":556},{"a":1623,"b":556,"c":1714,"d":556},{"a":1311,"b":556,"c":1315,"d":563},{"a":1623,"b":556,"c":1619,"d":563},{"a":1315,"b":563,"c":1619,"d":563},{"a":1252,"b":491,"c":1252,"d":556},{"a":1306,"b":491,"c":1306,"d":556},{"a":1629,"b":491,"c":1629,"d":556},{"a":1685,"b":491,"c":1685,"d":556},{"a":1338,"b":442,"c":1594,"d":442},{"a":1338,"b":442,"c":1338,"d":482},{"a":1338,"b":482,"c":1330,"d":491},{"a":1594,"b":442,"c":1594,"d":482},{"a":1594,"b":482,"c":1603,"d":491},{"a":1374,"b":442,"c":1385,"d":563},{"a":1558,"b":442,"c":1547,"d":563},
{"a":1893,"b":525,"c":2000,"d":525},{"a":2281,"b":525,"c":2389,"d":525},{"a":1893,"b":525,"c":1893,"d":590},{"a":2389,"b":525,"c":2389,"d":590},{"a":1893,"b":590,"c":1987,"d":590},{"a":2295,"b":590,"c":2389,"d":590},{"a":1987,"b":590,"c":1991,"d":598},{"a":2295,"b":590,"c":2291,"d":598},{"a":1991,"b":598,"c":2291,"d":598},{"a":1929,"b":525,"c":1929,"d":590},{"a":1981,"b":525,"c":1981,"d":590},{"a":2303,"b":525,"c":2303,"d":590},{"a":2355,"b":525,"c":2355,"d":590},{"a":2046,"b":367,"c":2236,"d":367},{"a":2046,"b":367,"c":2008,"d":514},{"a":2008,"b":514,"c":2000,"d":525},{"a":2236,"b":367,"c":2273,"d":514},{"a":2273,"b":514,"c":2281,"d":525},{"a":2059,"b":367,"c":2059,"d":598},{"a":2223,"b":367,"c":2223,"d":598},
{"a":537,"b":1156,"c":640,"d":1156},{"a":940,"b":1156,"c":1034,"d":1156},{"a":537,"b":1156,"c":537,"d":1221},{"a":1034,"b":1156,"c":1034,"d":1221},{"a":537,"b":1221,"c":633,"d":1221},{"a":940,"b":1221,"c":1034,"d":1221},{"a":633,"b":1221,"c":637,"d":1228},{"a":940,"b":1221,"c":936,"d":1228},{"a":637,"b":1228,"c":936,"d":1228},{"a":572,"b":1156,"c":572,"d":1221},{"a":626,"b":1156,"c":626,"d":1221},{"a":950,"b":1156,"c":950,"d":1221},{"a":1002,"b":1156,"c":1002,"d":1221},{"a":659,"b":1107,"c":914,"d":1107},{"a":659,"b":1107,"c":659,"d":1140},{"a":659,"b":1140,"c":640,"d":1156},{"a":914,"b":1107,"c":914,"d":1140},{"a":914,"b":1140,"c":940,"d":1156},{"a":696,"b":1107,"c":696,"d":1228},{"a":875,"b":1107,"c":875,"d":1228},
{"a":1218,"b":1151,"c":1311,"d":1151},{"a":1620,"b":1151,"c":1714,"d":1151},{"a":1218,"b":1151,"c":1218,"d":1216},{"a":1714,"b":1151,"c":1714,"d":1216},{"a":1218,"b":1216,"c":1311,"d":1216},{"a":1623,"b":1216,"c":1714,"d":1216},{"a":1311,"b":1216,"c":1315,"d":1224},{"a":1623,"b":1216,"c":1619,"d":1224},{"a":1315,"b":1224,"c":1619,"d":1224},{"a":1252,"b":1151,"c":1252,"d":1216},{"a":1306,"b":1151,"c":1306,"d":1216},{"a":1629,"b":1151,"c":1629,"d":1216},{"a":1685,"b":1151,"c":1685,"d":1216},{"a":1338,"b":1101,"c":1594,"d":1101},{"a":1338,"b":1101,"c":1338,"d":1135},{"a":1338,"b":1135,"c":1311,"d":1151},{"a":1594,"b":1101,"c":1594,"d":1135},{"a":1594,"b":1135,"c":1620,"d":1151},{"a":1377,"b":1101,"c":1377,"d":1168},{"a":1556,"b":1101,"c":1556,"d":1168},{"a":1377,"b":1168,"c":1556,"d":1168},{"a":1387,"b":1168,"c":1387,"d":1224},{"a":1547,"b":1168,"c":1547,"d":1224},
{"a":1888,"b":1153,"c":2384,"d":1153},{"a":1888,"b":1153,"c":1888,"d":1218},{"a":2384,"b":1153,"c":2384,"d":1218},{"a":1888,"b":1218,"c":1984,"d":1218},{"a":2290,"b":1218,"c":2384,"d":1218},{"a":1984,"b":1218,"c":1984,"d":1225},{"a":2290,"b":1218,"c":2290,"d":1225},{"a":1984,"b":1225,"c":2290,"d":1225},{"a":1924,"b":1153,"c":1924,"d":1218},{"a":1976,"b":1153,"c":1976,"d":1218},{"a":2300,"b":1153,"c":2300,"d":1218},{"a":2350,"b":1153,"c":2350,"d":1218},{"a":2047,"b":1153,"c":2047,"d":1225},{"a":2223,"b":1153,"c":2223,"d":1225},
{"a":545,"b":1778,"c":697,"d":1778},{"a":892,"b":1778,"c":1041,"d":1778},{"a":545,"b":1778,"c":545,"d":1845},{"a":1041,"b":1778,"c":1041,"d":1845},{"a":545,"b":1845,"c":684,"d":1845},{"a":902,"b":1845,"c":1041,"d":1845},{"a":640,"b":1845,"c":640,"d":1883},{"a":948,"b":1845,"c":948,"d":1883},{"a":640,"b":1883,"c":948,"d":1883},{"a":715,"b":1723,"c":874,"d":1723},{"a":715,"b":1723,"c":699,"d":1733},{"a":874,"b":1723,"c":888,"d":1733},{"a":718,"b":1723,"c":718,"d":1883},{"a":871,"b":1723,"c":871,"d":1883},{"a":699,"b":1733,"c":697,"d":1777},{"a":697,"b":1777,"c":684,"d":1845},{"a":888,"b":1733,"c":892,"d":1777},{"a":892,"b":1777,"c":902,"d":1845},{"a":693,"b":1790,"c":682,"d":1842},{"a":898,"b":1790,"c":908,"d":1842},{"a":580,"b":1778,"c":580,"d":1845},{"a":630,"b":1778,"c":630,"d":1845},{"a":955,"b":1778,"c":955,"d":1845},{"a":1009,"b":1778,"c":1009,"d":1845},
{"a":1219,"b":1773,"c":1385,"d":1773},{"a":1552,"b":1773,"c":1715,"d":1773},{"a":1219,"b":1773,"c":1219,"d":1850},{"a":1715,"b":1773,"c":1715,"d":1850},{"a":1219,"b":1848,"c":1395,"d":1848},{"a":1540,"b":1848,"c":1715,"d":1848},{"a":1313,"b":1848,"c":1313,"d":1890},{"a":1622,"b":1848,"c":1622,"d":1890},{"a":1313,"b":1890,"c":1622,"d":1890},{"a":1385,"b":1713,"c":1552,"d":1713},{"a":1401,"b":1713,"c":1401,"d":1890},{"a":1536,"b":1713,"c":1536,"d":1890},{"a":1251,"b":1773,"c":1251,"d":1848},{"a":1306,"b":1773,"c":1306,"d":1848},{"a":1629,"b":1773,"c":1629,"d":1848},{"a":1685,"b":1773,"c":1685,"d":1848},
{"a":1891,"b":1747,"c":2388,"d":1747},{"a":1891,"b":1813,"c":2388,"d":1813},{"a":1891,"b":1747,"c":1891,"d":1813},{"a":2388,"b":1747,"c":2388,"d":1813},{"a":1922,"b":1747,"c":1922,"d":1813},{"a":1978,"b":1747,"c":1978,"d":1813},{"a":2302,"b":1747,"c":2302,"d":1813},{"a":2356,"b":1747,"c":2356,"d":1813},{"a":1989,"b":1813,"c":1989,"d":1850},{"a":2293,"b":1813,"c":2293,"d":1850},{"a":1989,"b":1850,"c":2293,"d":1850},{"a":2050,"b":1747,"c":2050,"d":1850},{"a":2231,"b":1747,"c":2231,"d":1850},{"a":2050,"b":1801,"c":2231,"d":1801},
{"a":545,"b":2390,"c":709,"d":2390},{"a":879,"b":2390,"c":1041,"d":2390},{"a":545,"b":2390,"c":545,"d":2468},{"a":1041,"b":2390,"c":1041,"d":2468},{"a":545,"b":2466,"c":640,"d":2466},{"a":948,"b":2466,"c":1041,"d":2466},{"a":640,"b":2466,"c":640,"d":2480},{"a":948,"b":2466,"c":948,"d":2480},{"a":640,"b":2480,"c":948,"d":2480},{"a":709,"b":2377,"c":879,"d":2377},{"a":709,"b":2377,"c":709,"d":2390},{"a":879,"b":2377,"c":879,"d":2390},{"a":580,"b":2390,"c":580,"d":2466},{"a":628,"b":2390,"c":628,"d":2466},{"a":959,"b":2390,"c":959,"d":2466},{"a":1007,"b":2390,"c":1007,"d":2466},{"a":728,"b":2377,"c":728,"d":2450},{"a":728,"b":2450,"c":718,"d":2473},{"a":860,"b":2377,"c":860,"d":2450},{"a":860,"b":2450,"c":869,"d":2473},{"a":718,"b":2476,"c":869,"d":2476},
{"a":1385,"b":2305,"c":1551,"d":2305},{"a":1385,"b":2305,"c":1385,"d":2408},{"a":1551,"b":2305,"c":1551,"d":2408},{"a":1401,"b":2305,"c":1401,"d":2497},{"a":1533,"b":2305,"c":1533,"d":2497},{"a":1219,"b":2408,"c":1385,"d":2408},{"a":1551,"b":2408,"c":1715,"d":2408},{"a":1219,"b":2408,"c":1219,"d":2487},{"a":1715,"b":2408,"c":1715,"d":2487},{"a":1219,"b":2485,"c":1395,"d":2485},{"a":1540,"b":2485,"c":1715,"d":2485},{"a":1313,"b":2485,"c":1313,"d":2497},{"a":1622,"b":2485,"c":1622,"d":2497},{"a":1313,"b":2497,"c":1622,"d":2497},{"a":1254,"b":2408,"c":1254,"d":2485},{"a":1302,"b":2408,"c":1302,"d":2485},{"a":1633,"b":2408,"c":1633,"d":2485},{"a":1679,"b":2408,"c":1679,"d":2485},
{"a":1893,"b":2400,"c":2389,"d":2400},{"a":1893,"b":2465,"c":2389,"d":2465},{"a":1893,"b":2400,"c":1893,"d":2465},{"a":2389,"b":2400,"c":2389,"d":2465},{"a":1929,"b":2400,"c":1929,"d":2465},{"a":1981,"b":2400,"c":1981,"d":2465},{"a":2303,"b":2400,"c":2303,"d":2465},{"a":2355,"b":2400,"c":2355,"d":2465},{"a":1985,"b":2468,"c":2298,"d":2468}
],
"labels":[
{"t":"法兰类型","x":237,"y":75},{"t":"整体法兰","x":792,"y":75},{"t":"带颈螺纹法兰","x":1466,"y":75},{"t":"对焊法兰","x":2140,"y":75},
{"t":"GB/T 9124.1","x":237,"y":167},{"t":"法兰类型代号","x":237,"y":243},{"t":"IF","x":792,"y":206},{"t":"Th","x":1466,"y":206},{"t":"WN","x":2140,"y":206},{"t":"法兰简图及","x":237,"y":446},{"t":"EN 1092-1 代号","x":237,"y":521},
{"t":"法兰类型","x":237,"y":735},{"t":"带颈平焊法兰","x":792,"y":735},{"t":"带颈承插焊法兰","x":1466,"y":735},{"t":"板式平焊法兰","x":2140,"y":735},
{"t":"GB/T 9124.1","x":237,"y":829},{"t":"法兰类型代号","x":237,"y":905},{"t":"SO","x":792,"y":868},{"t":"SW","x":1466,"y":868},{"t":"PL","x":2140,"y":868},{"t":"法兰简图及","x":237,"y":1108},{"t":"EN 1092-1 代号","x":237,"y":1183},
{"t":"法兰类型","x":237,"y":1397},{"t":"A 型对焊环板式松套法兰","x":792,"y":1397},{"t":"B 型对焊环板式松套法兰","x":1466,"y":1397},{"t":"平焊环板式松套法兰","x":2140,"y":1397},
{"t":"GB/T 9124.1","x":237,"y":1492},{"t":"法兰类型代号","x":237,"y":1568},{"t":"PL/W-A","x":792,"y":1530},{"t":"PL/W-B","x":1466,"y":1530},{"t":"PL/C","x":2140,"y":1530},{"t":"法兰简图及","x":237,"y":1745},{"t":"EN 1092-1 代号","x":237,"y":1820},
{"t":"法兰类型","x":237,"y":2012},{"t":"管端翻边板式松套法兰","x":792,"y":2012},{"t":"翻边短节板式松套法兰","x":1466,"y":2012},{"t":"法兰盖","x":2140,"y":2012},
{"t":"GB/T 9124.1","x":237,"y":2105},{"t":"法兰类型代号","x":237,"y":2181},{"t":"PL/P-A","x":792,"y":2143},{"t":"PL/P-B","x":1466,"y":2143},{"t":"BL","x":2140,"y":2143},{"t":"法兰简图及","x":237,"y":2358},{"t":"EN 1092-1 代号","x":237,"y":2433}],
"tags":[{"t":"21","x":1003,"y":405},{"t":"13","x":1677,"y":403},{"t":"11","x":2344,"y":421},{"t":"12","x":1008,"y":1062},{"t":"01","x":2353,"y":1067},{"t":"04","x":634,"y":1688},{"t":"34","x":975,"y":1688},{"t":"02","x":1288,"y":1692},{"t":"35","x":1633,"y":1692},{"t":"02","x":1964,"y":1650},{"t":"32","x":2350,"y":1908},{"t":"02","x":616,"y":2315},{"t":"37","x":945,"y":2313},{"t":"02","x":1288,"y":2318},{"t":"36","x":1629,"y":2295},{"t":"05","x":2278,"y":2321}]
},
"layer":[
{"encoding":{"x":{"field":"a","type":"quantitative","scale":{"domain":[-2,2457],"nice":false,"zero":false},"axis":null},"y":{"field":"b","type":"quantitative","scale":{"domain":[-3,2547],"nice":false,"zero":false,"reverse":true},"axis":null},"x2":{"field":"c"},"y2":{"field":"d"}},
"layer":[
{"data":{"name":"grid"},"mark":{"type":"rule","stroke":"#3d3d3d","strokeWidth":2.5}},
{"data":{"name":"hatch"},"mark":{"type":"rule","stroke":"#222","strokeWidth":3}},
{"data":{"name":"thin"},"mark":{"type":"rule","stroke":"#222","strokeWidth":2.5}},
{"data":{"name":"wall"},"mark":{"type":"rule","stroke":"#000","strokeWidth":15}},
{"data":{"name":"speck"},"mark":{"type":"rule","stroke":"#fff","strokeWidth":4,"strokeDash":[8,7]}},
{"data":{"name":"outline"},"mark":{"type":"rule","stroke":"#000","strokeWidth":7.5,"strokeCap":"square"}}
]},
{"data":{"name":"labels"},"transform":[{"filter":"!test(/^[ -~]+$/, datum.t)"}],"mark":{"type":"text","font":"Liberation Serif, Noto Sans CJK SC","fontSize":47,"fontWeight":300,"fill":"#2a2a2a","align":"center","baseline":"middle"},"encoding":{"text":{"field":"t"},"x":{"field":"x","type":"quantitative","scale":{"domain":[-2,2457],"nice":false,"zero":false},"axis":null},"y":{"field":"y","type":"quantitative","scale":{"domain":[-3,2547],"nice":false,"zero":false,"reverse":true},"axis":null}}},
{"data":{"name":"labels"},"transform":[{"filter":"test(/^[ -~]+$/, datum.t)"}],"mark":{"type":"text","font":"Liberation Serif","fontSize":50,"fontWeight":300,"fill":"#333","align":"center","baseline":"middle"},"encoding":{"text":{"field":"t"},"x":{"field":"x","type":"quantitative","scale":{"domain":[-2,2457],"nice":false,"zero":false},"axis":null},"y":{"field":"y","type":"quantitative","scale":{"domain":[-3,2547],"nice":false,"zero":false,"reverse":true},"axis":null}}},
{"data":{"name":"tags"},"mark":{"type":"text","font":"Liberation Serif, Noto Sans CJK SC","fontSize":35,"fill":"#222","align":"center","baseline":"middle"},"encoding":{"text":{"field":"t"},"x":{"field":"x","type":"quantitative","scale":{"domain":[-2,2457],"nice":false,"zero":false},"axis":null},"y":{"field":"y","type":"quantitative","scale":{"domain":[-3,2547],"nice":false,"zero":false,"reverse":true},"axis":null}}}
]}
